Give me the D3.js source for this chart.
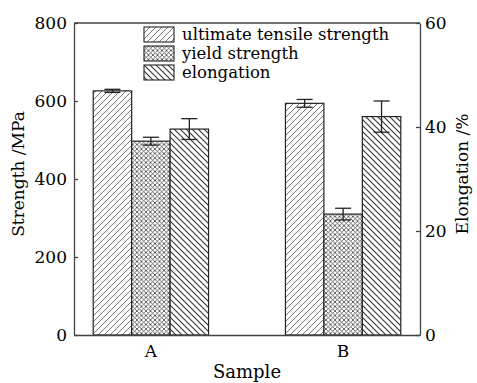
<!DOCTYPE html>
<html>
<head>
<meta charset="utf-8">
<script src="https://cdn.jsdelivr.net/npm/d3@7"></script>
<style>
  body { margin: 0; background: #fff; }
  text { font-family: "DejaVu Serif", "Noto Serif", serif; fill: #000; }
</style>
</head>
<body>
<script>
var samples = ['A', 'B'];
var seriesNames = ['ultimate tensile strength', 'yield strength', 'elongation'];

var utsValues = [626, 594];
var utsErrors = [4, 10];
var yieldValues = [497, 310];
var yieldErrors = [10, 15];
var elongValues = [39.6, 42.0];
var elongErrors = [2.0, 3.0];

var leftTicks = [0, 200, 400, 600, 800];
var rightTicks = [0, 20, 40, 60];

var width = 477, height = 383;
var margin = {left: 74, right: 57, top: 23, bottom: 48};
var plotW = width - margin.left - margin.right;
var plotH = height - margin.top - margin.bottom;

var svg = d3.select("body").append("svg").attr("width", width).attr("height", height);

// hatch patterns
var defs = svg.append("defs");
function hatch(id, paths, size, color, sw) {
  var p = defs.append("pattern").attr("id", id).attr("patternUnits", "userSpaceOnUse")
    .attr("width", size).attr("height", size);
  p.append("rect").attr("width", size).attr("height", size).attr("fill", "#fff");
  paths.forEach(function(d) {
    p.append("path").attr("d", d).attr("stroke", color).attr("stroke-width", sw).attr("fill", "none");
  });
}
hatch("p-uts", ["M0,6 L6,0", "M-1,1 L1,-1", "M5,7 L7,5"], 6, "#666", 0.9);
hatch("p-yield", ["M0,4.5 L4.5,0", "M-1,1 L1,-1", "M3.5,5.5 L5.5,3.5",
                  "M0,0 L4.5,4.5", "M-1,3.5 L1,5.5", "M3.5,-1 L5.5,1"], 4.5, "#444", 0.8);
hatch("p-elong", ["M0,0 L6,6", "M-1,5 L1,7", "M5,-1 L7,1"], 6, "#333", 1.1);
var fills = ["url(#p-uts)", "url(#p-yield)", "url(#p-elong)"];

var x0 = d3.scaleBand().domain(samples).range([0, plotW]).paddingInner(0.4).paddingOuter(0.1);
var x1 = d3.scaleBand().domain(seriesNames).range([0, x0.bandwidth()]);
var yL = d3.scaleLinear().domain([0, 800]).range([plotH, 0]);
var yR = d3.scaleLinear().domain([0, 60]).range([plotH, 0]);

var chartGroup = svg.append("g").attr("transform", "translate(" + margin.left + "," + margin.top + ")");

var rows = samples.map(function(s, i) {
  return [
    {sample: s, series: seriesNames[0], v: utsValues[i], e: utsErrors[i], y: yL},
    {sample: s, series: seriesNames[1], v: yieldValues[i], e: yieldErrors[i], y: yL},
    {sample: s, series: seriesNames[2], v: elongValues[i], e: elongErrors[i], y: yR}
  ];
});
var bars = [].concat.apply([], rows);

chartGroup.selectAll("rect.bar").data(bars).enter().append("rect")
  .attr("class", "bar")
  .attr("x", function(d) { return x0(d.sample) + x1(d.series); })
  .attr("y", function(d) { return d.y(d.v); })
  .attr("width", x1.bandwidth())
  .attr("height", function(d) { return plotH - d.y(d.v); })
  .attr("fill", function(d) { return fills[seriesNames.indexOf(d.series)]; })
  .attr("stroke", "#222").attr("stroke-width", 1.2);

// error bars
var cap = 8;
var eb = chartGroup.selectAll("g.err").data(bars).enter().append("g").attr("class", "err")
  .attr("stroke", "#222").attr("stroke-width", 1.3);
eb.append("line")
  .attr("x1", function(d) { return x0(d.sample) + x1(d.series) + x1.bandwidth() / 2; })
  .attr("x2", function(d) { return x0(d.sample) + x1(d.series) + x1.bandwidth() / 2; })
  .attr("y1", function(d) { return d.y(d.v + d.e); })
  .attr("y2", function(d) { return d.y(d.v - d.e); });
[1, -1].forEach(function(sgn) {
  eb.append("line")
    .attr("x1", function(d) { return x0(d.sample) + x1(d.series) + x1.bandwidth() / 2 - cap; })
    .attr("x2", function(d) { return x0(d.sample) + x1(d.series) + x1.bandwidth() / 2 + cap; })
    .attr("y1", function(d) { return d.y(d.v + sgn * d.e); })
    .attr("y2", function(d) { return d.y(d.v + sgn * d.e); });
});

// axes
var yAxisL = d3.axisLeft(yL).tickValues(leftTicks).tickSizeInner(-4).tickSizeOuter(0).tickPadding(7);
var yAxisR = d3.axisRight(yR).tickValues(rightTicks).tickSizeInner(-4).tickSizeOuter(0).tickPadding(5);
var xAxis = d3.axisBottom(x0).tickSize(0).tickPadding(10);

function styleAxis(g) {
  g.attr("font-family", null).attr("font-size", null);
  g.select(".domain").attr("stroke", "#444").attr("stroke-width", 1.3);
  g.selectAll(".tick line").attr("stroke", "#444").attr("stroke-width", 1.3);
  g.selectAll(".tick text").style("font-size", "17px").attr("fill", "#000");
}
chartGroup.append("g").attr("class", "axis y").call(yAxisL).call(styleAxis);
chartGroup.append("g").attr("class", "axis y2").attr("transform", "translate(" + plotW + ",0)").call(yAxisR).call(styleAxis);
chartGroup.append("g").attr("class", "axis x").attr("transform", "translate(0," + plotH + ")").call(xAxis).call(styleAxis);
chartGroup.append("line").attr("x1", 0).attr("x2", plotW).attr("y1", 0).attr("y2", 0)
  .attr("stroke", "#444").attr("stroke-width", 1.3);

// axis titles
svg.append("text").attr("transform", "translate(24," + (margin.top + 151) + ") rotate(-90)")
  .attr("text-anchor", "middle").style("font-size", "17px").text("Strength /MPa");
svg.append("text").attr("transform", "translate(468," + (margin.top + 151) + ") rotate(-90)")
  .attr("text-anchor", "middle").style("font-size", "17px").text("Elongation /%");
svg.append("text").attr("x", margin.left + plotW / 2).attr("y", 378)
  .attr("text-anchor", "middle").style("font-size", "18px").text("Sample");

// legend
var legend = chartGroup.append("g").attr("transform", "translate(70,4)");
var li = legend.selectAll("g").data(seriesNames).enter().append("g")
  .attr("transform", function(d, i) { return "translate(0," + (i * 19) + ")"; });
li.append("rect").attr("width", 30).attr("height", 15)
  .attr("fill", function(d, i) { return fills[i]; })
  .attr("stroke", "#222").attr("stroke-width", 1.1);
li.append("text").attr("x", 38).attr("y", 12.5).style("font-size", "16.5px").text(function(d) { return d; });
</script>
</body>
</html>
